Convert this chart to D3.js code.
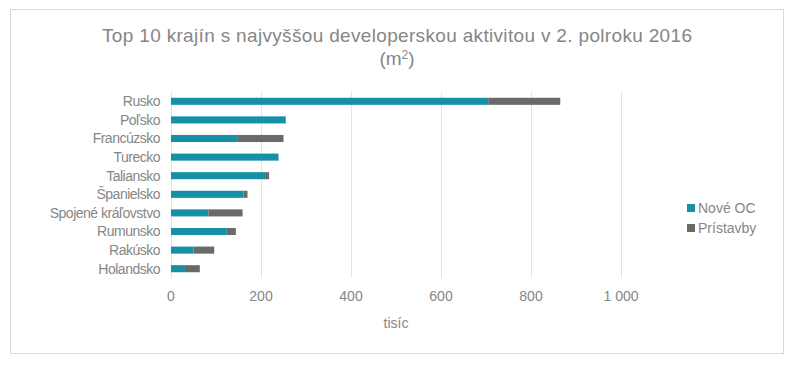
<!DOCTYPE html>
<html>
<head>
    <script src="https://d3js.org/d3.v7.min.js"></script>
    <style>
        body { margin: 0; background: #fff; }
        text { font-family: "Liberation Sans", Arial, sans-serif; fill: #868686; }
    </style>
</head>
<body>
    <svg width="800" height="374"></svg>
    <script>
        const countries = ['Rusko', 'Poľsko', 'Francúzsko', 'Turecko', 'Taliansko',
            'Španielsko', 'Spojené kráľovstvo', 'Rumunsko', 'Rakúsko', 'Holandsko'];
        const noveOC = [705, 255, 147, 239, 209, 161, 83, 124, 50, 31];
        const pristavby = [160, 0, 103, 0, 9, 9, 76, 20, 46, 33];
        const seriesNames = ['Nové OC', 'Prístavby'];
        const colors = ['#1590a7', '#6a6a6a'];
        const xTicks = [0, 200, 400, 600, 800, 1000];

        const svg = d3.select('svg');

        // outer frame
        svg.append('rect')
            .attr('x', 10.5).attr('y', 9.5)
            .attr('width', 773).attr('height', 344)
            .attr('fill', 'none')
            .attr('stroke', '#d9d9d9');

        svg.append('text')
            .attr('x', 397).attr('y', 42)
            .attr('text-anchor', 'middle')
            .style('font-size', '19px')
            .attr('textLength', 590)
            .text('Top 10 krajín s najvyššou developerskou aktivitou v 2. polroku 2016');

        const sub = svg.append('text')
            .attr('x', 397).attr('y', 65)
            .attr('text-anchor', 'middle')
            .style('font-size', '19px');
        sub.append('tspan').text('(m');
        sub.append('tspan').attr('dy', -6).style('font-size', '12px').text('2');
        sub.append('tspan').attr('dy', 6).text(')');

        const x = d3.scaleLinear().domain([0, 1000]).range([171, 621]);
        const y = d3.scaleBand().domain(countries).range([92, 278]).paddingInner(0.62).paddingOuter(0.31);

        // gridlines
        svg.append('g')
            .selectAll('line')
            .data(xTicks)
            .enter()
            .append('line')
            .attr('x1', d => x(d) + 0.5).attr('x2', d => x(d) + 0.5)
            .attr('y1', 92).attr('y2', 278)
            .attr('stroke', '#e3e3e3');

        const data = countries.map((c, i) => ({country: c, nove: noveOC[i], pristavby: pristavby[i]}));
        const stacked = d3.stack().keys(['nove', 'pristavby'])(data);

        svg.append('g')
            .selectAll('g')
            .data(stacked)
            .enter()
            .append('g')
            .attr('fill', (d, i) => colors[i])
            .selectAll('rect')
            .data(d => d)
            .enter()
            .append('rect')
            .attr('x', d => x(d[0]))
            .attr('width', d => x(d[1]) - x(d[0]))
            .attr('y', d => y(d.data.country))
            .attr('height', y.bandwidth());

        // category labels
        svg.append('g')
            .selectAll('text')
            .data(countries)
            .enter()
            .append('text')
            .attr('x', 160)
            .attr('y', d => y(d) + y.bandwidth() / 2)
            .attr('dy', '0.35em')
            .attr('text-anchor', 'end')
            .style('font-size', '14px')
            .style('letter-spacing', '-0.5px')
            .text(d => d);

        // x tick labels
        svg.append('g')
            .selectAll('text')
            .data(xTicks)
            .enter()
            .append('text')
            .attr('x', d => x(d))
            .attr('y', 301)
            .attr('text-anchor', 'middle')
            .style('font-size', '14px')
            .text(d => d >= 1000 ? d3.format(',')(d).replace(',', ' ') : d);

        svg.append('text')
            .attr('x', x(500)).attr('y', 328)
            .attr('text-anchor', 'middle')
            .style('font-size', '14px')
            .text('tisíc');

        // legend
        const legend = svg.append('g')
            .selectAll('g')
            .data(seriesNames)
            .enter()
            .append('g')
            .attr('transform', (d, i) => `translate(687,${208 + i * 20})`);
        legend.append('rect')
            .attr('x', 0).attr('y', -4)
            .attr('width', 8).attr('height', 8)
            .attr('fill', (d, i) => colors[i]);
        legend.append('text')
            .attr('x', 11).attr('dy', '0.35em')
            .style('font-size', '14px')
            .text(d => d);
    </script>
</body>
</html>
